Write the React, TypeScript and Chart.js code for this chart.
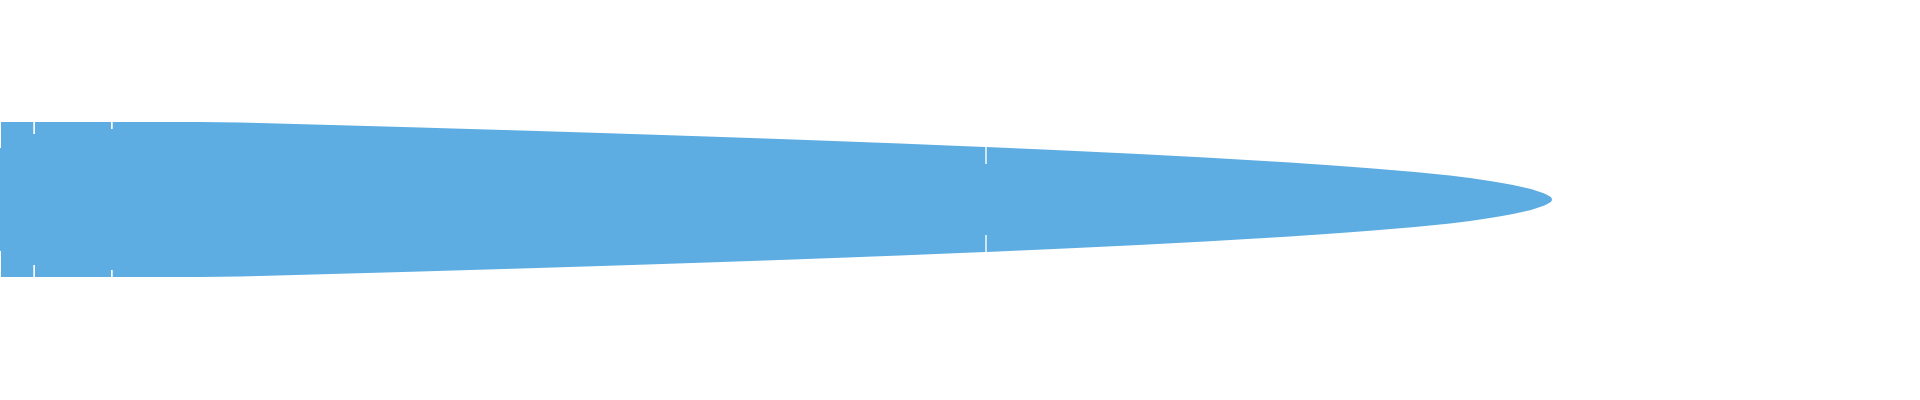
import { useEffect, useRef } from "react";
import { Chart, ChartTypeRegistry, registerables } from "chart.js";

Chart.register(...registerables);

// sample position along the horizontal axis (0..1920)
const positions = [
  0, 1, 1, 33.3, 33.3, 35, 35, 111, 111, 112.7, 112.7, 200, 240, 277, 313, 349, 385, 420, 453, 487, 521,
  553, 585, 616, 647, 677, 707, 736, 765, 793, 820, 847, 873, 900, 930, 960, 985.3, 985.3, 986.7, 986.7,
  1020, 1043, 1065, 1086, 1107, 1128, 1148, 1167, 1186, 1205, 1222, 1239, 1256, 1273, 1290, 1304, 1319,
  1333, 1347, 1360, 1373, 1385, 1397, 1415, 1430, 1450, 1470, 1490, 1502, 1513, 1522, 1531, 1537, 1543,
  1546, 1548.5, 1550.5, 1551.6, 1552,
];

// half-width of the band at each position (mirrored above and below zero)
const amplitude = [
  51.5, 51.5, 77.5, 77.5, 65.5, 65.5, 77.5, 77.5, 70.5, 70.5, 77.5, 77.5, 77, 76, 75, 74, 73, 72, 71, 70, 69,
  68, 67, 66, 65, 64, 63, 62, 61, 60, 59, 58, 57, 56, 54.8, 53.5, 52.5, 35.5, 35.5, 52.4,
  51, 50, 49, 48, 47, 46, 45, 44, 43, 42, 41, 40, 39, 38, 37, 36, 35,
  34, 33, 32, 31, 30, 29, 27.4, 26, 24, 21.5, 18.5, 16.5, 14.5, 12.5, 10.5, 8.5, 6.5,
  5.2, 3.8, 2.8, 1.6, 0,
];

const X_MAX = 1920;
const Y_MIN = -200.5;
const Y_MAX = 199.5;
const BAND_COLOR = "#5dade2";

export default function App() {
  const chartRef = useRef<HTMLCanvasElement>(null);
  const chartInstance = useRef<Chart<keyof ChartTypeRegistry> | null>(null);

  useEffect(() => {
    if (!chartRef.current) return;
    if (chartInstance.current) {
      chartInstance.current.destroy();
    }
    const ctx = chartRef.current.getContext("2d");
    if (!ctx) return;

    const upper = positions.map((x, i) => ({ x, y: amplitude[i] }));
    const lower = positions.map((x, i) => ({ x, y: -amplitude[i] }));

    chartInstance.current = new Chart(ctx, {
      type: "line",
      data: {
        datasets: [
          {
            label: "upper",
            data: upper,
            fill: "+1",
            backgroundColor: BAND_COLOR,
            borderColor: BAND_COLOR,
            borderWidth: 0,
            pointRadius: 0,
            tension: 0,
          },
          {
            label: "lower",
            data: lower,
            fill: false,
            backgroundColor: BAND_COLOR,
            borderColor: BAND_COLOR,
            borderWidth: 0,
            pointRadius: 0,
            tension: 0,
          },
        ],
      },
      options: {
        animation: false,
        responsive: true,
        maintainAspectRatio: false,
        layout: { padding: 0 },
        scales: {
          x: { type: "linear", min: 0, max: X_MAX, display: false },
          y: { type: "linear", min: Y_MIN, max: Y_MAX, display: false },
        },
        plugins: {
          legend: { display: false },
          tooltip: { enabled: false },
        },
      },
    });

    return () => {
      if (chartInstance.current) {
        chartInstance.current.destroy();
        chartInstance.current = null;
      }
    };
  }, []);

  return (
    <div style={{ position: "absolute", left: 0, top: 0, width: "1920px", height: "400px", background: "#fff" }}>
      <canvas ref={chartRef}></canvas>
    </div>
  );
}
